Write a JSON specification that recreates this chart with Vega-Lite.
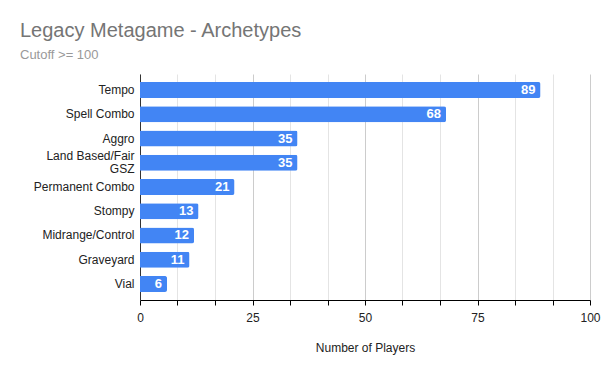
{
  "$schema": "https://vega.github.io/schema/vega-lite/v6.json",
  "autosize": "none",
  "width": 450,
  "height": 226,
  "padding": {"left": 140, "top": 74, "right": 19, "bottom": 75},
  "background": "white",
  "title": {
    "text": "Legacy Metagame - Archetypes",
    "subtitle": "Cutoff >= 100",
    "anchor": "start",
    "frame": "group",
    "dx": -120,
    "offset": 12,
    "font": "Liberation Sans",
    "fontSize": 20,
    "fontWeight": "normal",
    "color": "#757575",
    "subtitleFont": "Liberation Sans",
    "subtitleFontSize": 13,
    "subtitleColor": "#999999",
    "subtitlePadding": 8
  },
  "data": {
    "values": [
      {"archetype": "Tempo", "players": 89},
      {"archetype": "Spell Combo", "players": 68},
      {"archetype": "Aggro", "players": 35},
      {"archetype": "Land Based/Fair GSZ", "players": 35},
      {"archetype": "Permanent Combo", "players": 21},
      {"archetype": "Stompy", "players": 13},
      {"archetype": "Midrange/Control", "players": 12},
      {"archetype": "Graveyard", "players": 11},
      {"archetype": "Vial", "players": 6}
    ]
  },
  "encoding": {
    "y": {
      "field": "archetype",
      "type": "nominal",
      "sort": null,
      "scale": {"paddingInner": 0.34, "paddingOuter": 0.33},
      "axis": {
        "title": null,
        "domain": true,
        "domainColor": "#333333",
        "ticks": false,
        "labelPadding": 6,
        "labelFont": "Liberation Sans",
        "labelFontSize": 12,
        "labelColor": "#222222",
        "labelLineHeight": 13,
        "labelOffset": {"condition": {"test": "datum.value == 'Land Based/Fair GSZ'", "value": -6.5}, "value": 0},
        "labelExpr": "datum.value == 'Land Based/Fair GSZ' ? ['Land Based/Fair', 'GSZ'] : datum.label"
      }
    },
    "x": {
      "field": "players",
      "type": "quantitative",
      "scale": {"domain": [0, 100], "nice": false},
      "axis": {
        "title": "Number of Players",
        "titleFont": "Liberation Sans",
        "titleFontSize": 12,
        "titleFontWeight": "normal",
        "titleColor": "#222222",
        "titlePadding": 19,
        "values": [0, 8.3333, 16.6667, 25, 33.3333, 41.6667, 50, 58.3333, 66.6667, 75, 83.3333, 91.6667, 100],
        "labelExpr": "abs(datum.value % 25) < 0.01 ? format(datum.value, 'd') : ''",
        "labelFlush": false,
        "labelFont": "Liberation Sans",
        "labelFontSize": 12,
        "labelColor": "#222222",
        "labelPadding": 7,
        "domainColor": "#000000",
        "tickColor": "#000000",
        "tickSize": 5,
        "grid": true,
        "gridColor": {"condition": {"test": "abs(datum.value % 25) < 0.01", "value": "#cccccc"}, "value": "#e4e4e4"}
      }
    }
  },
  "layer": [
    {
      "mark": {"type": "bar", "color": "#4285F4", "cornerRadiusEnd": 2}
    },
    {
      "mark": {"type": "text", "align": "right", "baseline": "middle", "dx": -5, "color": "white", "font": "Liberation Sans", "fontSize": 13, "fontWeight": "bold"},
      "encoding": {"text": {"field": "players", "type": "quantitative"}}
    }
  ],
  "config": {"view": {"stroke": null}}
}
